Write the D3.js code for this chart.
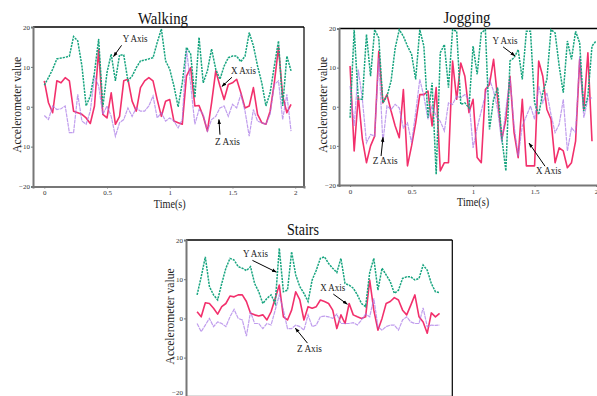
<!DOCTYPE html>
<html>
<head>
<meta charset="utf-8">
<script src="https://cdn.jsdelivr.net/npm/d3@7"></script>
<style>
  body { margin: 0; background: #fff; }
  svg { display: block; }
  svg text { font-family: "Liberation Serif", "Times New Roman", serif; font-weight: normal; }
</style>
</head>
<body>
<div id="chart"></div>
<script>
// samples are 1/30 s apart
const dt = 1 / 30;
const yTicks = [-20, -10, 0, 10, 20];
const xTicks = [0, 0.5, 1, 1.5, 2];

const walkingX = [6.5, 1, -1.5, 6.5, 6, 7.3, 6.5, -1.1, -1.5, -1.9, -2.8, -4.2, 0.2, 14.4, -1.9, -2.8, 3.5, -4.4, -2.4, 6.5,
  6.9, 1.4, -1.1, 4.8, 6.5, 7.3, 6.5, 1.8, -2.4, 1.4, 1.8, -3.6, -4, -4.4, 7.7, 9.8, 0.2, 0.3, -2.4, -6.1,
  1, 9, 5.2, 1.8, 5.6, 6, 6.9, 3.5, -0.3, 0.2, 4.8, -1.9, -4, -4.4, -1.1, 6, 14.9, 2.7, -1.5, 0.6];
const walkingY = [5.4, 7.3, 9.4, 12, 12.2, 12.4, 12.7, 17.6, 16.5, 10.2, 0.2, 2.7, 8.6, 17, 0, 8.6, 13.2, 6.5, 13, 13,
  6.5, 7.7, 9.8, 11.5, 11.7, 12, 12.3, 16.1, 19.5, 11.5, 9.4, 5.2, 0, 6, 14.9, 13.2, 2.3, 17.4, 6, 9,
  14.5, 9.4, 6.9, 10.2, 12.3, 12.7, 12.7, 11.3, 12.7, 18.6, 15.3, 10.2, 6, 0.2, 3.5, 10.2, 16.5, 0.2, 12.7, 9];
const walkingZ = [-2.2, -3.2, 0.2, -0.7, -0.5, 0.2, -6.5, -6.5, 3.1, -3.6, -4.4, -1.1, 7.7, 5.2, -1.9, 0.2, -2.4, -7.4, -4, -3.2,
  -0.3, -2.4, -0.3, -1.1, -1.1, 0.2, 2.7, -2.8, -1.5, -3.6, -2.8, -3.6, -5.3, -3.2, 14.4, 5.6, -4.4, -0.7, -1.9, -6.1,
  -3.2, -2.4, -0.3, 0.2, -2.4, 0.6, -0.3, 3.1, -1.1, -7.4, -0.7, -3.6, -4, -4.4, -1.9, 5.6, 6.5, -3.2, 3.1, -6.1];

const joggingX = [10.4, -11.3, 2.7, -8.3, -14.3, -10, -7.5, 14.2, 1, 3.1, -1.1, -4.9, -7.9, 4.4, -15.1, -10, -4.1, 3.1, 3.1, 4,
  -4.9, 4.9, -16.4, -14.3, -14.3, 11.7, 1.9, 11.2, 7.8, -1.5, 1.9, -13, -14.3, 4.4, 5.7, 12.1, 1.9, -8.3, -3.2, 7.8,
  -6.6, -13, 1.9, -15.1, -15.1, -15.1, 11.7, 7.8, -0.7, -3.2, -14.3, -10.5, -11.3, -15.6, -14.3, -8.8, 12.1, -0.7, 13.8, -8.8];
const joggingY = [-2.8, 19.7, 1.9, 1.9, 18.5, 7.8, 19.7, 17.6, 1, 2.7, 6.6, 15, 19.7, 18, 15.5, 13.4, 7, 19.7, 15.5, -2.8,
  6.1, -17.3, 13.8, 15.9, 4.9, 19.7, 19.3, 0.6, 1, -0.3, 15.5, 8.3, 18.9, 19.7, -5.8, 1.9, 4.9, -7.9, -16.4, 11.7,
  12.5, 14.6, 7, 19.3, 19.3, 1, -2, 3.6, 7, 19.7, 18.9, 10.4, 3.6, 16.8, 12.1, 19.3, 16.3, -1.1, 2.7, 15.5, 16.8];
const joggingZ = [5.3, -4.9, 9.5, 1.9, -9.2, -7.1, -7.5, 12.5, -9.2, 0.2, -0.7, 0.6, -0.3, -5.4, -4.1, -9.2, -1.5, 7, 2.7, -3.2,
  0.2, -2.4, -3.7, -6.2, 1, 0.6, 2.7, 2.3, 3.1, 1.9, -10.5, -5.4, -1.1, 3.1, 7, 4, -0.7, -9.2, -0.7, 7.4,
  -4.9, -12.6, -4.9, -2.4, 0.2, -3.2, 5.3, 1, 3.6, -2, -6.6, -4.5, 1.9, -11.3, -5.4, -6.6, 12.9, -2.8, 1.9, 2.3];

const stairsX = [1.7, 0.4, 4, 3.8, 2.6, 1.1, 3, 3.8, 5.7, 5.5, 6, 6, 4.3, 1.3, 0.9, 0.6, 0.9, -0.4, 1.7, 5.1,
  8.5, 0.4, -0.4, 2.1, 6.8, 4.7, -0.4, 3, 2.6, 3, 4.7, 4.3, 3.8, 2.1, -2.6, 0.9, -1.3, 3.8, 0.9, 0.4,
  0, 0.4, 9.8, 2.1, -3, 0, 3.8, 4.3, 5.3, 4.7, 2.1, 0.9, 3.4, 6, 0.4, -0.9, -3.8, 1.4, 0.4, 1.3];
const stairsY = [6, 10.6, 15.7, 8.1, 6, 4.7, 8.9, 12.8, 15.3, 14.9, 13.2, 12.8, 12.2, 13.2, 8.9, 6.8, 3.8, 5.1, 6, 3.8,
  17.9, 6.8, 7.2, 17, 11.1, 8.1, 6.4, 4.3, 9.8, 12.3, 15.3, 15.7, 14, 12.8, 11.7, 15.3, 8.9, 8.5, 7.7, 6,
  3.8, 3, 11.7, 15.3, 7.2, 12.8, 11.1, 9.4, 6.4, 7.2, 10.2, 10.6, 10.6, 9.8, 10.2, 13.6, 12.3, 8.9, 6.8, 6.6];
const stairsZ = [-1.3, -3.4, -1.7, 0, -2.1, -0.9, -1.3, -2.1, 0.4, 2.3, 0, -0.4, -4.5, 1.7, -1.3, -1.3, -2.6, -1.3, -1.7, 2.1,
  6, 2.1, -2.6, -2.6, -1.7, -2.1, -3, 0.9, -2.1, -1.7, 0.4, 0.6, 0.4, 0, 1.1, -1.3, -1.3, -1.3, -1.1, -1.7,
  -0.4, 1.1, 0.4, 5.1, -2.1, -3, -2.1, -1.7, -1.7, -3, -0.4, 0.4, -0.9, -1.3, -1.3, 2.7, -2.1, -1.7, -1.8, -1.7];

// annotation labels: [label, text t, text v, arrow from t, v, arrow to t, v]
const walkingNotes = [
  ["Y Axis", 0.724, 16.2, 0.616, 15.4, 0.552, 12.6],
  ["X Axis", 1.588, 8.1, 1.496, 7.4, 1.416, 5.1],
  ["Z Axis", 1.46, -9.5, 1.4, -7.0, 1.392, -3.2]
];
const joggingNotes = [
  ["Y Axis", 1.26, 16.1, 1.244, 15.3, 1.341, 13],
  ["Z Axis", 0.285, -14.7, 0.252, -12.6, 0.268, -7.8],
  ["X Axis", 1.614, -17.2, 1.585, -15.2, 1.455, -9.3]
];
const stairsNotes = [
  ["Y Axis", 0.473, 15.6, 0.449, 14.8, 0.643, 11.8],
  ["X Axis", 1.1, 6.9, 1.105, 6.2, 1.219, 3.6],
  ["Z Axis", 0.911, -8.6, 0.895, -6.3, 0.797, -2.5]
];

const W = 597, H = 396;
const svg = d3.select("#chart").append("svg").attr("width", W).attr("height", H);

svg.append("defs").append("marker")
  .attr("id", "arrow")
  .attr("viewBox", "0 0 10 10")
  .attr("refX", 9).attr("refY", 5)
  .attr("markerWidth", 5).attr("markerHeight", 5)
  .attr("orient", "auto")
  .append("path").attr("d", "M0,1.5L10,5L0,8.5z").attr("fill", "#000");

// the source font is narrow, so texts are squeezed to its widths
function narrow(sel, len) {
  return sel.attr("textLength", len).attr("lengthAdjust", "spacingAndGlyphs");
}

function drawPanel(p) {
  const x = d3.scaleLinear().domain([-0.09, 2.07]).range([p.left, p.right]);
  const y = d3.scaleLinear().domain([-20, 20]).range([p.bottom, p.top]);
  const g = svg.append("g");

  // frame: top and right in black
  g.append("line").attr("x1", p.left).attr("x2", p.right).attr("y1", p.top).attr("y2", p.top)
    .attr("stroke", "#000").attr("stroke-width", 1.4);
  g.append("line").attr("x1", p.right).attr("x2", p.right).attr("y1", p.top).attr("y2", p.bottom)
    .attr("stroke", "#000").attr("stroke-width", 1.2);

  const yAxis = g.append("g").attr("transform", `translate(${p.left},0)`)
    .call(d3.axisLeft(y).tickValues(yTicks).tickSize(2).tickPadding(1));
  const axes = [yAxis];
  if (p.showTime) {
    axes.push(g.append("g").attr("transform", `translate(0,${p.bottom})`)
      .call(d3.axisBottom(x).tickValues(xTicks).tickSize(2).tickPadding(2).tickFormat(d3.format(""))));
  } else {
    g.append("line").attr("x1", p.left).attr("x2", p.right).attr("y1", p.bottom).attr("y2", p.bottom)
      .attr("stroke", "#777").attr("stroke-width", 2);
  }
  axes.forEach(a => {
    a.attr("font-family", null);
    a.select(".domain").attr("stroke", "#777").attr("stroke-width", 2);
    a.selectAll(".tick line").attr("stroke", "#777");
    a.selectAll(".tick text").attr("font-size", 7).attr("fill", "#333");
  });
  // keep the lowest label inside the picture
  yAxis.selectAll(".tick text").filter(d => y(d) > H - 4).attr("dy", "-0.35em");

  narrow(g.append("text").attr("x", p.titleX).attr("y", p.titleY)
    .attr("text-anchor", "middle").attr("font-size", 17).attr("fill", "#111").text(p.title), p.titleLen);
  narrow(g.append("text").attr("transform", `translate(${p.left - 12},${y(0) - 2}) rotate(-90)`)
    .attr("text-anchor", "middle").attr("font-size", 12.5).attr("fill", "#222").text("Accelerometer value"), 96);
  if (p.showTime) {
    narrow(g.append("text").attr("x", x(1)).attr("y", p.bottom + 21)
      .attr("text-anchor", "middle").attr("font-size", 12.5).attr("fill", "#222").text("Time(s)"), 32);
  }

  const line = d3.line().x((d, i) => x(i * dt)).y(d => y(d));
  g.append("path").datum(p.xs).attr("d", line).attr("fill", "none")
    .attr("stroke", "#f2306c").attr("stroke-width", 1.6).attr("stroke-linejoin", "round");
  g.append("path").datum(p.zs).attr("d", line).attr("fill", "none")
    .attr("stroke", "#a574e6").attr("stroke-opacity", 0.7).attr("stroke-width", 1.2)
    .attr("stroke-dasharray", "4,0.7");
  g.append("path").datum(p.ys).attr("d", line).attr("fill", "none")
    .attr("stroke", "#17a47f").attr("stroke-width", 1.5).attr("stroke-dasharray", "2.2,1");

  p.notes.forEach(n => {
    narrow(g.append("text").attr("x", x(n[1])).attr("y", y(n[2]))
      .attr("text-anchor", "middle").attr("font-size", 10).attr("fill", "#222").text(n[0]), 25);
    g.append("line").attr("x1", x(n[3])).attr("y1", y(n[4])).attr("x2", x(n[5])).attr("y2", y(n[6]))
      .attr("stroke", "#000").attr("stroke-width", 1).attr("marker-end", "url(#arrow)");
  });
}

drawPanel({ title: "Walking", titleX: 163, titleY: 24, titleLen: 50, left: 33, right: 304, top: 27, bottom: 186.5,
  showTime: true, xs: walkingX, ys: walkingY, zs: walkingZ, notes: walkingNotes });
drawPanel({ title: "Jogging", titleX: 467, titleY: 23, titleLen: 47, left: 339, right: 604.7, top: 28.5, bottom: 185,
  showTime: true, xs: joggingX, ys: joggingY, zs: joggingZ, notes: joggingNotes });
drawPanel({ title: "Stairs", titleX: 303, titleY: 235, titleLen: 32, left: 186, right: 452.3, top: 240, bottom: 396.8,
  showTime: false, xs: stairsX, ys: stairsY, zs: stairsZ, notes: stairsNotes });
</script>
</body>
</html>
